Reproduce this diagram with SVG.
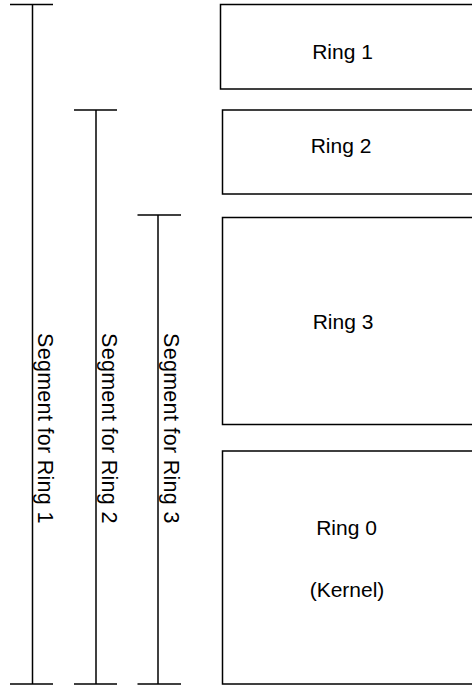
<svg xmlns="http://www.w3.org/2000/svg" width="472" height="686" viewBox="0 0 472 686">
<style>
.ln{stroke:#000;stroke-width:1.5;fill:none}
.bx{stroke:#000;stroke-width:1.5;fill:#fff}
.t{font-family:"Liberation Sans",Arial,sans-serif;font-size:21px;fill:#000}
.v{font-size:21.5px;letter-spacing:0.3px}
.c{text-anchor:middle}
</style>
<rect width="472" height="686" fill="#fff"/>
<g id="connectors">
<g id="seg1">
<line class="ln" x1="10" y1="4.5" x2="53" y2="4.5"/>
<line class="ln" x1="32.5" y1="4.5" x2="32.5" y2="684"/>
<line class="ln" x1="10" y1="684" x2="53" y2="684"/>
</g>
<g id="seg2">
<line class="ln" x1="74" y1="110" x2="117" y2="110"/>
<line class="ln" x1="96" y1="110" x2="96" y2="684"/>
<line class="ln" x1="74" y1="684" x2="117" y2="684"/>
</g>
<g id="seg3">
<line class="ln" x1="137.5" y1="215" x2="181" y2="215"/>
<line class="ln" x1="158" y1="215" x2="158" y2="684"/>
<line class="ln" x1="137.5" y1="684" x2="181" y2="684"/>
</g>
</g>
<g id="label-seg1"><text class="t v" transform="translate(37.5,333) rotate(90)">Segment for Ring 1</text></g>
<g id="label-seg2"><text class="t v" transform="translate(101.5,333) rotate(90)">Segment for Ring 2</text></g>
<g id="label-seg3"><text class="t v" transform="translate(163.5,333) rotate(90)">Segment for Ring 3</text></g>
<g id="ring1">
<rect class="bx" x="220.5" y="4.5" width="270" height="84.5"/>
<text class="t c" x="342.5" y="59">Ring 1</text>
</g>
<g id="ring2">
<rect class="bx" x="222.5" y="110" width="270" height="84"/>
<text class="t c" x="341" y="153">Ring 2</text>
</g>
<g id="ring3">
<rect class="bx" x="222.5" y="217.5" width="270" height="207"/>
<text class="t c" x="343" y="329">Ring 3</text>
</g>
<g id="ring0">
<rect class="bx" x="222.5" y="451" width="270" height="233"/>
<text class="t c" x="346.5" y="535">Ring 0</text>
<text class="t c" x="347" y="597">(Kernel)</text>
</g>
</svg>
